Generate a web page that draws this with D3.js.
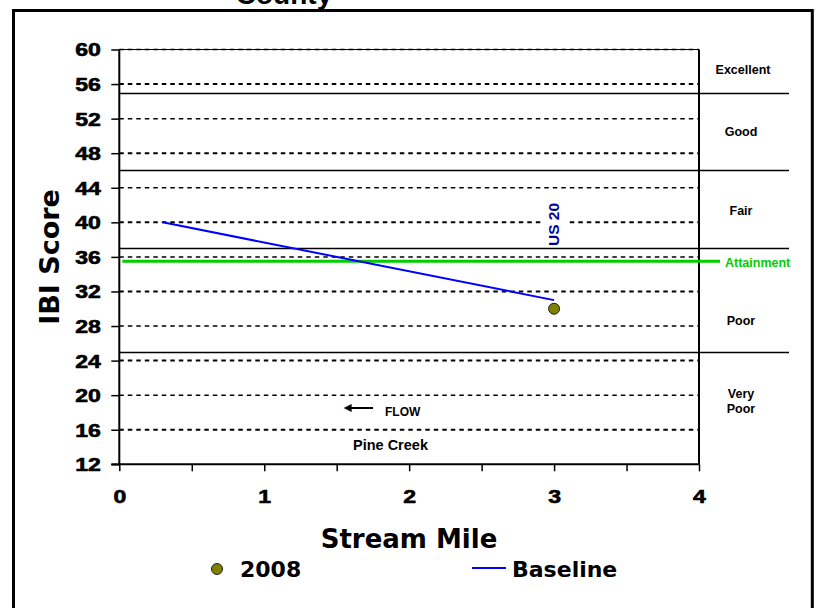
<!DOCTYPE html>
<html>
<head>
<meta charset="utf-8">
<script src="https://cdn.jsdelivr.net/npm/d3@7"></script>
<style>
html,body{margin:0;padding:0;background:#fff;}
svg{display:block;}
</style>
</head>
<body>
<svg id="chart" width="817" height="608"></svg>
<script>
// ---- data ----
const yTickValues = [12, 16, 20, 24, 28, 32, 36, 40, 44, 48, 52, 56, 60];
const xTickValues = [0, 1, 2, 3, 4];
const xMinorTicks = [0, 0.5, 1, 1.5, 2, 2.5, 3, 3.5, 4];
const baselineMiles = [0.3, 3.0];
const baselineScores = [40, 31];
const miles2008 = [3.0];
const scores2008 = [30];
const bandBoundaries = [55, 46, 37, 25];
const bandNames = ["Excellent", "Good", "Fair", "Poor", "Very Poor"];
const attainmentScore = 35.5;
const legendNames = ["2008", "Baseline"];

// ---- layout ----
const svg = d3.select("#chart");
const x = d3.scaleLinear().domain([0, 4]).range([119.3, 699]);
const y = d3.scaleLinear().domain([12, 60]).range([464.3, 49.5]);
const stretch = 1.28;

// outer frame
svg.append("rect").attr("x", 13.5).attr("y", 10.5).attr("width", 798.8).attr("height", 640)
  .attr("fill", "none").attr("stroke", "#000").attr("stroke-width", 3);

// title (cut off at top in the reference)
svg.append("text").attr("x", 284).attr("y", 4).attr("text-anchor", "middle")
  .attr("font-family", "Liberation Sans, Arial, sans-serif").attr("font-weight", "bold")
  .attr("font-size", 28).text("County");

// plot top border
svg.append("line").attr("x1", x(0)).attr("x2", x(4)).attr("y1", y(60)).attr("y2", y(60))
  .attr("stroke", "#000").attr("stroke-width", 1);

// dashed grid
svg.append("g").selectAll("line").data(yTickValues.filter(d => d > 12)).join("line")
  .attr("x1", x(0)).attr("x2", x(4))
  .attr("y1", d => y(d)).attr("y2", d => y(d))
  .attr("stroke", "#000")
  .attr("stroke-width", d => (d % 8 === 0 ? 2 : 1.5))
  .attr("stroke-dasharray", "4.5,4");

// band boundaries (solid)
svg.append("g").selectAll("line").data(bandBoundaries).join("line")
  .attr("x1", x(0)).attr("x2", 789)
  .attr("y1", d => Math.round(y(d)) + 0.5).attr("y2", d => Math.round(y(d)) + 0.5)
  .attr("stroke", "#000").attr("stroke-width", 1.5);

// right plot border
svg.append("line").attr("x1", x(4)).attr("x2", x(4)).attr("y1", y(60)).attr("y2", y(12))
  .attr("stroke", "#000").attr("stroke-width", 2);

// axes
const yAxis = d3.axisLeft(y).tickValues(yTickValues).tickSize(8).tickPadding(10);
const gy = svg.append("g").attr("transform", `translate(${x(0)},0)`).call(yAxis);
gy.select(".domain").attr("stroke-width", 2).attr("d", `M0,${y(60)}V${y(12)}`);
gy.selectAll(".tick line").attr("stroke-width", 1.5);
gy.selectAll("text").attr("font-family", "Liberation Sans, Arial, sans-serif")
  .attr("font-weight", "bold").attr("font-size", 18).attr("fill", "#000")
  .attr("stroke", "#000").attr("stroke-width", 0.6)
  .attr("x", -18.5 / stretch).attr("transform", `scale(${stretch},1)`).attr("dy", "0.36em");

const xAxis = d3.axisBottom(x).tickValues(xMinorTicks).tickSize(7)
  .tickFormat(d => (xTickValues.includes(d) ? d3.format("d")(d) : ""));
const gx = svg.append("g").attr("transform", `translate(0,${y(12)})`).call(xAxis);
gx.select(".domain").attr("stroke-width", 2).attr("d", `M${x(0) - 8},0H${x(4)}`);
gx.selectAll(".tick line").attr("stroke-width", 1.5);
gx.selectAll("text").attr("font-family", "Liberation Sans, Arial, sans-serif")
  .attr("font-weight", "bold").attr("font-size", 18).attr("fill", "#000")
  .attr("stroke", "#000").attr("stroke-width", 0.6)
  .attr("transform", `scale(${stretch},1)`)
  .attr("y", 39).attr("dy", 0);

// axis titles
svg.append("text").attr("transform", `translate(59,257) rotate(-90)`)
  .attr("text-anchor", "middle")
  .attr("font-family", "DejaVu Sans, Verdana, sans-serif").attr("font-weight", "bold")
  .attr("font-size", 27).text("IBI Score");
svg.append("text").attr("x", 409).attr("y", 548).attr("text-anchor", "middle")
  .attr("font-family", "DejaVu Sans, Verdana, sans-serif").attr("font-weight", "bold")
  .attr("font-size", 26).text("Stream Mile");

// attainment line
const green = "#00CC00";
svg.append("line").attr("x1", x(0) + 3).attr("x2", 720)
  .attr("y1", y(attainmentScore)).attr("y2", y(attainmentScore))
  .attr("stroke", green).attr("stroke-width", 3);
svg.append("text").attr("x", 725).attr("y", y(attainmentScore) + 5.5)
  .attr("font-family", "Liberation Sans, Arial, sans-serif").attr("font-weight", "bold")
  .attr("font-size", 12.5).attr("fill", green).text("Attainment");

// band labels
const bandGroup = svg.append("g").attr("font-family", "Liberation Sans, Arial, sans-serif")
  .attr("font-weight", "bold").attr("font-size", 12.5).attr("text-anchor", "middle");
const labelY = [73.5, 136, 215, 325, 398];
bandNames.forEach((name, i) => {
  if (name === "Very Poor") {
    const t = bandGroup.append("text").attr("x", 741).attr("y", labelY[i]);
    t.append("tspan").attr("x", 741).text("Very");
    t.append("tspan").attr("x", 741).attr("dy", 15).text("Poor");
  } else {
    bandGroup.append("text").attr("x", i === 0 ? 743 : 741).attr("y", labelY[i]).text(name);
  }
});

// US 20 label with white background
svg.append("rect").attr("x", 541).attr("y", 200).attr("width", 26).attr("height", 46).attr("fill", "#fff");
svg.append("text").attr("transform", `translate(559,224.5) rotate(-90)`)
  .attr("text-anchor", "middle")
  .attr("font-family", "Liberation Sans, Arial, sans-serif").attr("font-weight", "bold")
  .attr("font-size", 15.5).attr("fill", "#000099").text("US 20");

// FLOW arrow and text
svg.append("defs").append("marker").attr("id", "ah").attr("viewBox", "0 0 10 10")
  .attr("refX", 2).attr("refY", 5).attr("markerWidth", 9).attr("markerHeight", 8)
  .attr("orient", "auto").attr("markerUnits", "userSpaceOnUse")
  .append("path").attr("d", "M10,5L0,0L0,10Z").attr("fill", "#000");
svg.append("line").attr("x1", 373).attr("x2", 350).attr("y1", 408).attr("y2", 408)
  .attr("stroke", "#000").attr("stroke-width", 2).attr("marker-end", "url(#ah)");
svg.append("text").attr("x", 385).attr("y", 416)
  .attr("font-family", "Liberation Sans, Arial, sans-serif").attr("font-weight", "bold")
  .attr("font-size", 12).text("FLOW");
svg.append("text").attr("x", 353).attr("y", 450)
  .attr("font-family", "Liberation Sans, Arial, sans-serif").attr("font-weight", "bold")
  .attr("font-size", 14.5).text("Pine Creek");

// baseline line
const line = d3.line().x(d => x(d[0])).y(d => y(d[1]));
svg.append("path").datum(baselineMiles.map((m, i) => [m, baselineScores[i]]))
  .attr("d", line).attr("fill", "none").attr("stroke", "#0000FF").attr("stroke-width", 2);

// 2008 points
svg.append("g").selectAll("circle").data(miles2008.map((m, i) => [m, scores2008[i]])).join("circle")
  .attr("cx", d => x(d[0])).attr("cy", d => y(d[1])).attr("r", 5.5)
  .attr("fill", "#808000").attr("stroke", "#222").attr("stroke-width", 1);

// legend
const lg = svg.append("g").attr("font-family", "DejaVu Sans, Verdana, sans-serif")
  .attr("font-weight", "bold").attr("font-size", 22);
lg.append("circle").attr("cx", 217).attr("cy", 569).attr("r", 5.5)
  .attr("fill", "#808000").attr("stroke", "#222").attr("stroke-width", 1);
lg.append("text").attr("x", 240).attr("y", 577).text(legendNames[0]);
lg.append("line").attr("x1", 472).attr("x2", 506).attr("y1", 568).attr("y2", 568)
  .attr("stroke", "#0000FF").attr("stroke-width", 2);
lg.append("text").attr("x", 512).attr("y", 577).text(legendNames[1]);
</script>
</body>
</html>
